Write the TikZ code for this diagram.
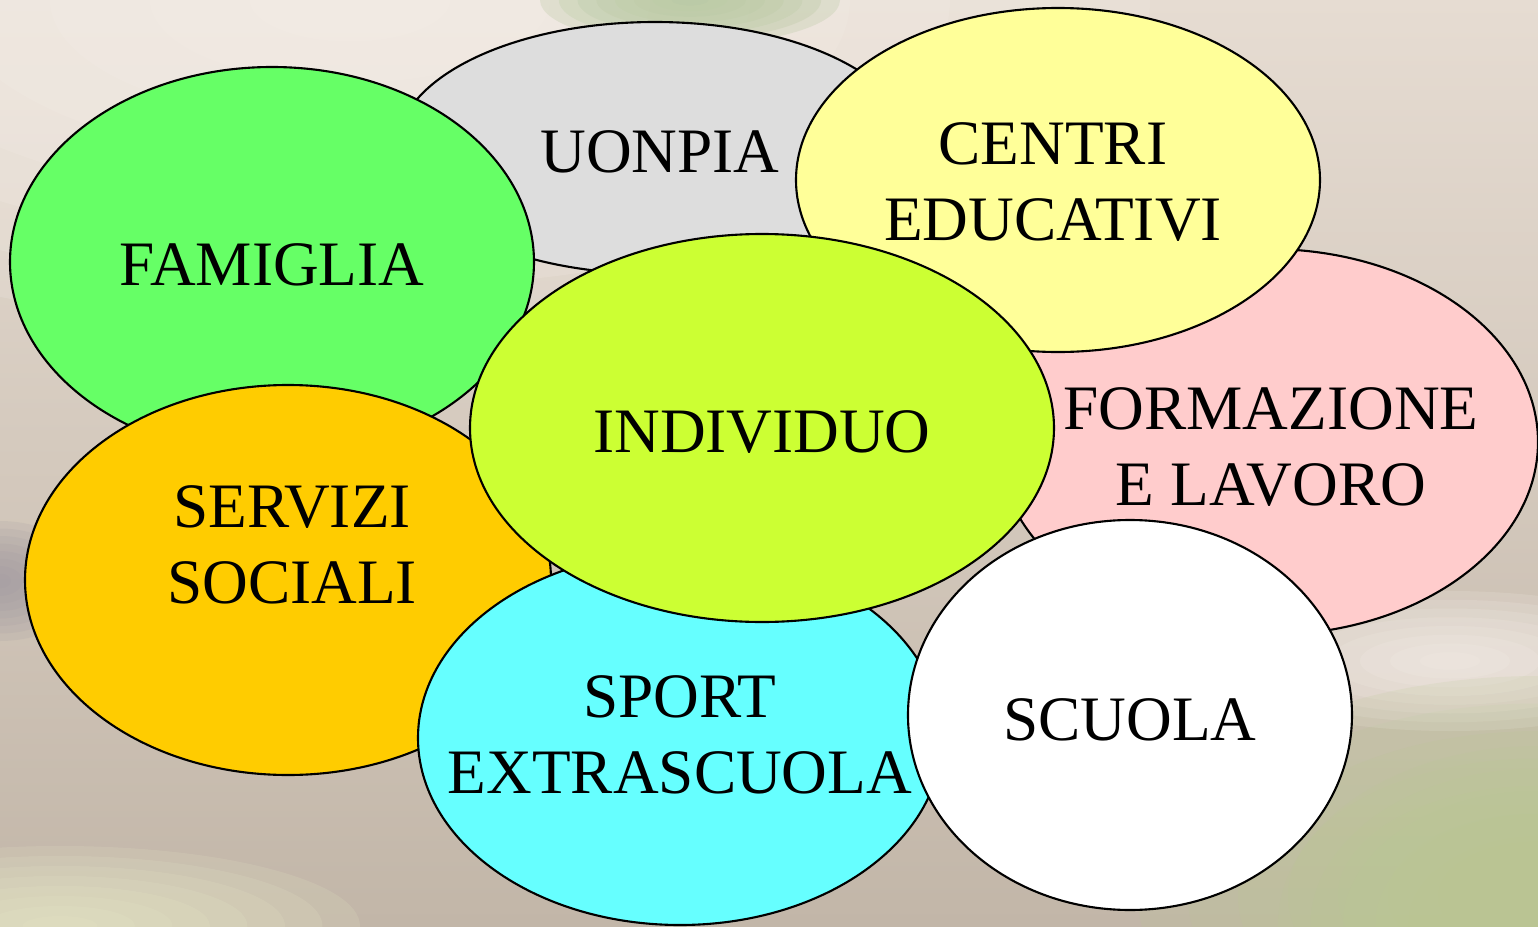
\documentclass[tikz,border=0pt]{standalone}
\usepackage{fontspec}
\setmainfont{Liberation Serif}
\usepackage{tikz}
\usepackage{xcolor}

\definecolor{famiglia}{HTML}{66FF66}
\definecolor{uonpia}{HTML}{DDDDDD}
\definecolor{centri}{HTML}{FFFF99}
\definecolor{formazione}{HTML}{FFCCCC}
\definecolor{servizi}{HTML}{FFCC00}
\definecolor{sport}{HTML}{66FFFF}
\definecolor{individuo}{HTML}{CCFF33}
\definecolor{fondoalto}{HTML}{E6DCD2}
\definecolor{fondomezzo}{HTML}{C9BDB1}
\definecolor{fondobasso}{HTML}{C2B6A8}
\definecolor{crema}{HTML}{F8F2EC}
\definecolor{foglia}{HTML}{8DB070}
\definecolor{prato}{HTML}{BACA93}
\definecolor{pallido}{HTML}{E8EAC8}
\definecolor{ombra}{HTML}{A099A0}

\begin{document}
\begin{tikzpicture}[x=0.01cm,y=0.01cm,
    bolla/.style={draw=black,line width=0.6pt},
    etichetta/.style={align=center,font=\fontsize{18}{21.5}\selectfont},
    macchia/.style={fill=#1,opacity=0.16}]
    % sfondo
    \useasboundingbox (0,0) rectangle (1538,926);
    \shade[top color=fondoalto,middle color=fondomezzo,bottom color=fondobasso] (0,0) rectangle (1538,926);
    \foreach \k in {1,...,8} {
        \fill[macchia=crema] (350,926) ellipse ({800*\k/8} and {330*\k/8});
        \fill[macchia=foglia] (690,926) ellipse ({150*\k/8} and {45*\k/8});
        \fill[macchia=crema] (1450,265) ellipse ({240*\k/8} and {70*\k/8});
        \fill[macchia=prato] (1538,30) ellipse ({400*\k/8} and {220*\k/8});
        \fill[macchia=prato] (1538,0) ellipse ({260*\k/8} and {180*\k/8});
        \fill[macchia=pallido] (60,0) ellipse ({300*\k/8} and {80*\k/8});
        \fill[macchia=ombra] (0,345) ellipse ({90*\k/8} and {60*\k/8});
    }

    % bolle
    \filldraw[bolla,fill=uonpia] (655,778) ellipse (258 and 126);
    \filldraw[bolla,fill=famiglia] (272,664) ellipse (262 and 195);
    \filldraw[bolla,fill=formazione] (1268,484) ellipse (270 and 193);
    \filldraw[bolla,fill=centri] (1058,746) ellipse (262 and 172);
    \filldraw[bolla,fill=servizi] (288,346) ellipse (263 and 195);
    \filldraw[bolla,fill=sport] (680,188) ellipse (262 and 187);
    \filldraw[bolla,fill=white] (1130,211) ellipse (222 and 195);
    \filldraw[bolla,fill=individuo] (762,498) ellipse (292 and 194);

    % testi
    \node[etichetta] (uonpia) at (660,774) {UONPIA};
    \node[etichetta] (famiglia) at (272,661) {FAMIGLIA};
    \node[etichetta] (centri) at (1053,744) {CENTRI\\EDUCATIVI};
    \node[etichetta] (formazione) at (1271,479) {FORMAZIONE\\E LAVORO};
    \node[etichetta] (servizi) at (292,381) {SERVIZI\\SOCIALI};
    \node[etichetta] (individuo) at (762,494) {INDIVIDUO};
    \node[etichetta] (sport) at (680,191) {SPORT\\EXTRASCUOLA};
    \node[etichetta] (scuola) at (1130,206) {SCUOLA};
\end{tikzpicture}
\end{document}
